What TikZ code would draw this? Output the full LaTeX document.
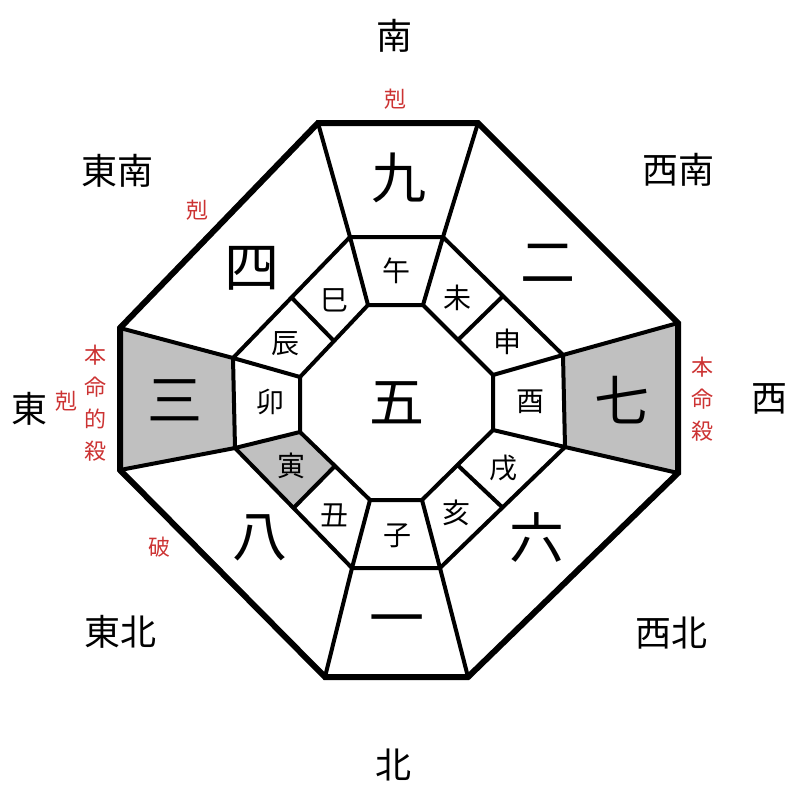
\documentclass[tikz,border=0pt]{standalone}
\usepackage{fontspec}
\setmainfont{Noto Sans CJK JP}
\usetikzlibrary{calc}
\definecolor{kokuRed}{HTML}{CC3333}
\definecolor{kabeGray}{HTML}{C0C0C0}
\tikzset{
  dirLabel/.style={inner sep=0pt,font=\fontsize{36}{36}\selectfont},
  starNum/.style={inner sep=0pt,font=\fontsize{55}{55}\selectfont},
  eto/.style={inner sep=0pt,font=\fontsize{28}{28}\selectfont},
  redNote/.style={inner sep=0pt,text=kokuRed,align=center,font=\fontsize{22}{32}\selectfont},
  wall/.style={line width=6pt,line join=miter},
  rib/.style={line width=4pt,line join=miter}
}

\begin{document}
\begin{tikzpicture}[x=1pt,y=-1pt]
  \useasboundingbox (0,0) rectangle (800,800);
  \foreach \k/\x/\y in {1/318/123,2/478/123,3/678/323,4/678/473,5/468/677,6/325/677,7/120/470,8/120/328}
    \coordinate (O\k) at (\x,\y);
  \foreach \k/\x/\y in {1/350/237,2/443/237,3/563/355,4/565/447,5/440/568,6/352/568,7/235/448,8/233/358}
    \coordinate (M\k) at (\x,\y);
  \foreach \k/\x/\y in {1/368/305,2/423/305,3/493/375,4/493/430,5/422/500,6/370/500,7/300/432,8/300/377}
    \coordinate (I\k) at (\x,\y);

  \fill[kabeGray] (O8) -- (M8) -- (M7) -- (O7) -- cycle;
  \fill[kabeGray] (O3) -- (M3) -- (M4) -- (O4) -- cycle;
  \fill[kabeGray] (M7) -- (I7) -- ($(I7)!.5!(I6)$) -- ($(M7)!.5!(M6)$) -- cycle;

  \draw[rib] (M1) -- (M2) -- (M3) -- (M4) -- (M5) -- (M6) -- (M7) -- (M8) -- cycle;
  \draw[rib] (I1) -- (I2) -- (I3) -- (I4) -- (I5) -- (I6) -- (I7) -- (I8) -- cycle;
  \foreach \k in {1,...,8}
    \draw[rib] (O\k) -- (M\k) -- (I\k);
  \foreach \a/\b in {2/3,4/5,6/7,8/1}
    \draw[rib] ($(M\a)!.5!(M\b)$) -- ($(I\a)!.5!(I\b)$);
  \draw[wall] (O1) -- (O2) -- (O3) -- (O4) -- (O5) -- (O6) -- (O7) -- (O8) -- cycle;

  \foreach \nm/\t/\x/\y in {dS/南/394/36,dN/北/393/765,dE/東/29/409,dW/西/769/399,
                            dSE/東南/117/171,dSW/西南/678/170,dNE/東北/120/632,dNW/西北/671/633}
    \node[dirLabel] (\nm) at (\x,\y) {\t};

  \foreach \nm/\t/\x/\y in {s9/九/399/178,s2/二/548/263,s7/七/622/400,s6/六/537/537,s1/一/397/627,
                            s8/八/260/538,s3/三/175/400,s4/四/252/268,s5/五/397/403}
    \node[starNum] (\nm) at (\x,\y) {\t};

  \foreach \nm/\t/\x/\y in {uma/午/396/271,hitsuji/未/457/298,saru/申/507/342,tori/酉/530/402,
                            inu/戌/503/468,i/亥/456/513,ne/子/397/536,ushi/丑/334/515,
                            tora/寅/291/466,u/卯/270/402,tatsu/辰/285/344,mi/巳/334/300}
    \node[eto] (\nm) at (\x,\y) {\t};

  \node[redNote] (kokuS) at (395,99) {剋};
  \node[redNote] (kokuSE) at (197,210) {剋};
  \node[redNote] (kokuE) at (66,401) {剋};
  \node[redNote] (honmeiteki) at (95,403) {本\\命\\的\\殺};
  \node[redNote] (honmei) at (702,399) {本\\命\\殺};
  \node[redNote] (ha) at (159,547) {破};
\end{tikzpicture}
\end{document}
